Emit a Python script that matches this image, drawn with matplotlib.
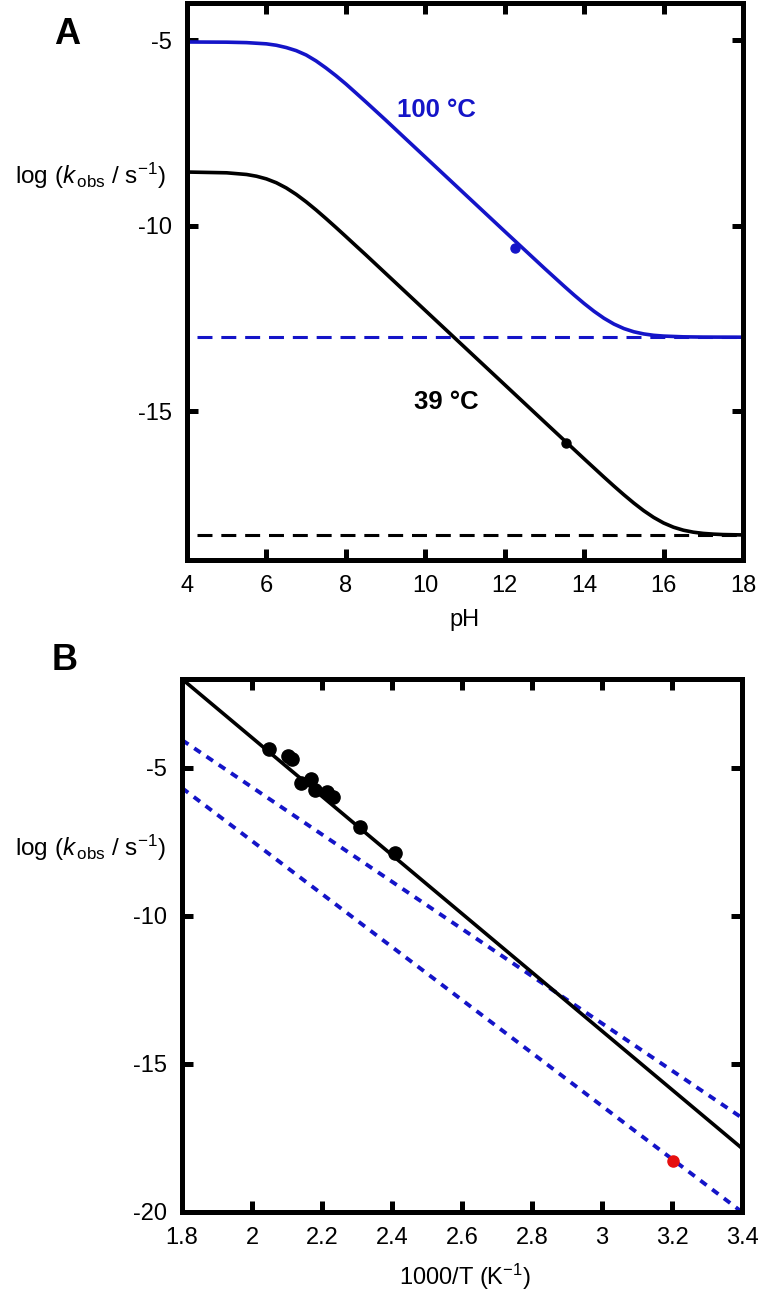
#############
## Imports ##
#############

import numpy as np
import matplotlib
matplotlib.use('Agg')
import matplotlib.pyplot as plt

##############
## Settings ##
##############
plt.rcParams['font.family'] = ['Liberation Sans', 'DejaVu Sans']
plt.rcParams['mathtext.fontset'] = 'custom'
plt.rcParams['mathtext.rm'] = 'Liberation Sans'
plt.rcParams['mathtext.it'] = 'Liberation Sans:italic'
plt.rcParams['mathtext.bf'] = 'Liberation Sans:bold'
plt.rcParams['axes.unicode_minus'] = False

BLUE = '#1414c8'
RED = '#e60f0f'

##########
## Data ##
##########

# panel A: pH profiles
ph_100 = [4, 5, 5.5, 6, 6.25, 6.5, 6.75, 7, 7.25, 7.5, 7.75, 8, 8.25, 8.5, 9,
          9.5, 10, 11, 12, 13, 13.5, 13.75, 14, 14.25, 14.5, 14.75, 15, 15.25,
          15.5, 15.75, 16, 16.5, 17, 18]
logk_100 = [-5.05, -5.055, -5.067, -5.10, -5.138, -5.20, -5.283, -5.40, -5.560,
            -5.75, -5.957, -6.18, -6.419, -6.66, -7.15, -7.651, -8.15, -9.15,
            -10.15, -11.144, -11.63, -11.867, -12.093, -12.303, -12.49, -12.646,
            -12.767, -12.854, -12.912, -12.949, -12.970, -12.990, -12.997, -13.0]
ph_39 = [4, 5, 5.5, 5.75, 6, 6.25, 6.5, 6.75, 7, 7.25, 7.5, 7.75, 8, 8.25, 8.5,
         9, 10, 11, 12, 13, 14, 14.5, 14.75, 15, 15.25, 15.5, 15.75, 16, 16.25,
         16.5, 16.75, 17, 17.25, 17.5, 18]
logk_39 = [-8.552, -8.573, -8.618, -8.665, -8.737, -8.841, -8.981, -9.154,
           -9.354, -9.573, -9.805, -10.044, -10.288, -10.535, -10.78, -11.28,
           -12.28, -13.28, -14.28, -15.28, -16.276, -16.768, -17.009, -17.243,
           -17.466, -17.672, -17.853, -18.003, -18.117, -18.198, -18.251,
           -18.284, -18.303, -18.315, -18.325]
ph_flat = [4.25, 18]
uncat_100 = [-13.0, -13.0]
uncat_39 = [-18.33, -18.33]
ph_point_100, logk_point_100 = [12.27], [-10.6]
ph_point_39, logk_point_39 = [13.54], [-15.84]

# panel B: Arrhenius plot
invT_fit = [1.8, 3.4]
logk_fit = [-2.0, -17.85]
logk_upper = [-4.06, -16.82]
logk_lower = [-5.68, -20.0]
invT_pts = [2.049, 2.104, 2.113, 2.139, 2.169, 2.180, 2.213, 2.230, 2.309, 2.409]
logk_pts = [-4.36, -4.60, -4.71, -5.50, -5.38, -5.75, -5.81, -6.00, -6.99, -7.89]
invT_red, logk_red = [3.203], [-18.28]

xticks_a = [4, 6, 8, 10, 12, 14, 16, 18]
yticks_a = [-5, -10, -15]
xticks_b = [1.8, 2.0, 2.2, 2.4, 2.6, 2.8, 3.0, 3.2, 3.4]
xlabels_b = ['1.8', '2', '2.2', '2.4', '2.6', '2.8', '3', '3.2', '3.4']
yticks_b = [-5, -10, -15, -20]

############
## Canvas ##
############
W, H = 760, 1291
fig = plt.figure(figsize=(W/100., H/100.), dpi=100)

def px_axes(left, top, right, bottom):
    return fig.add_axes([left/W, 1 - bottom/H, (right-left)/W, (bottom-top)/H])

def style(ax):
    for s in ax.spines.values():
        s.set_linewidth(3.6)
    ax.tick_params(direction='in', length=8, width=3.6, top=True, right=True,
                   labelsize=17, pad=11)

def ylab(y):
    fig.text(166/W, 1 - y/H, r'log ($\mathit{k}_{\,\mathrm{obs}}$ / s$^{-1}$)',
             ha='right', va='center', fontsize=17.5)

#############
## Panel A ##
#############
ax = px_axes(187, 3, 743, 560)
ax.plot(ph_flat, uncat_100, color=BLUE, lw=2.2, dashes=(4.9, 2.9))
ax.plot(ph_flat, uncat_39, color='k', lw=2.2, dashes=(4.9, 2.9))
ax.plot(ph_100, logk_100, color=BLUE, lw=2.6)
ax.plot(ph_39, logk_39, color='k', lw=2.6)
ax.plot(ph_point_100, logk_point_100, 'o', color=BLUE, ms=6.5)
ax.plot(ph_point_39, logk_point_39, 'o', color='k', ms=6.5)
ax.set_xlim(4, 18)
ax.set_ylim(-19, -4)
ax.set_xticks(xticks_a)
ax.set_yticks(yticks_a)
style(ax)
ax.text(436, H - 110, '100 \u00b0C', transform=None, color=BLUE,
        fontsize=18.5, fontweight='bold', ha='center', va='center')
ax.text(446, H - 402, '39 \u00b0C', transform=None, color='k',
        fontsize=18.5, fontweight='bold', ha='center', va='center')
fig.text(67/W, 1 - 35/H, 'A', fontsize=26, fontweight='bold', ha='center', va='center')
fig.text(465/W, 1 - 620/H, 'pH', fontsize=17, ha='center', va='center')
ylab(176)

#############
## Panel B ##
#############
bx = px_axes(182, 679, 742, 1212)
bx.plot(invT_fit, logk_upper, color=BLUE, lw=2.8, dashes=(2, 1.8))
bx.plot(invT_fit, logk_lower, color=BLUE, lw=2.8, dashes=(2, 1.8))
bx.plot(invT_fit, logk_fit, color='k', lw=2.6)
bx.plot(invT_pts, logk_pts, 'o', color='k', ms=9.5)
bx.plot(invT_red, logk_red, 'o', color=RED, ms=8)
bx.set_xlim(1.8, 3.4)
bx.set_ylim(-20, -2)
bx.set_xticks(xticks_b)
bx.set_xticklabels(xlabels_b)
bx.set_yticks(yticks_b)
style(bx)
fig.text(65/W, 1 - 660/H, 'B', fontsize=26, fontweight='bold', ha='center', va='center')
fig.text(465/W, 1 - 1277/H, r'1000/T (K$^{-1}$)', fontsize=17, ha='center', va='center')
ylab(848)

fig.savefig('out.png', dpi=100)
